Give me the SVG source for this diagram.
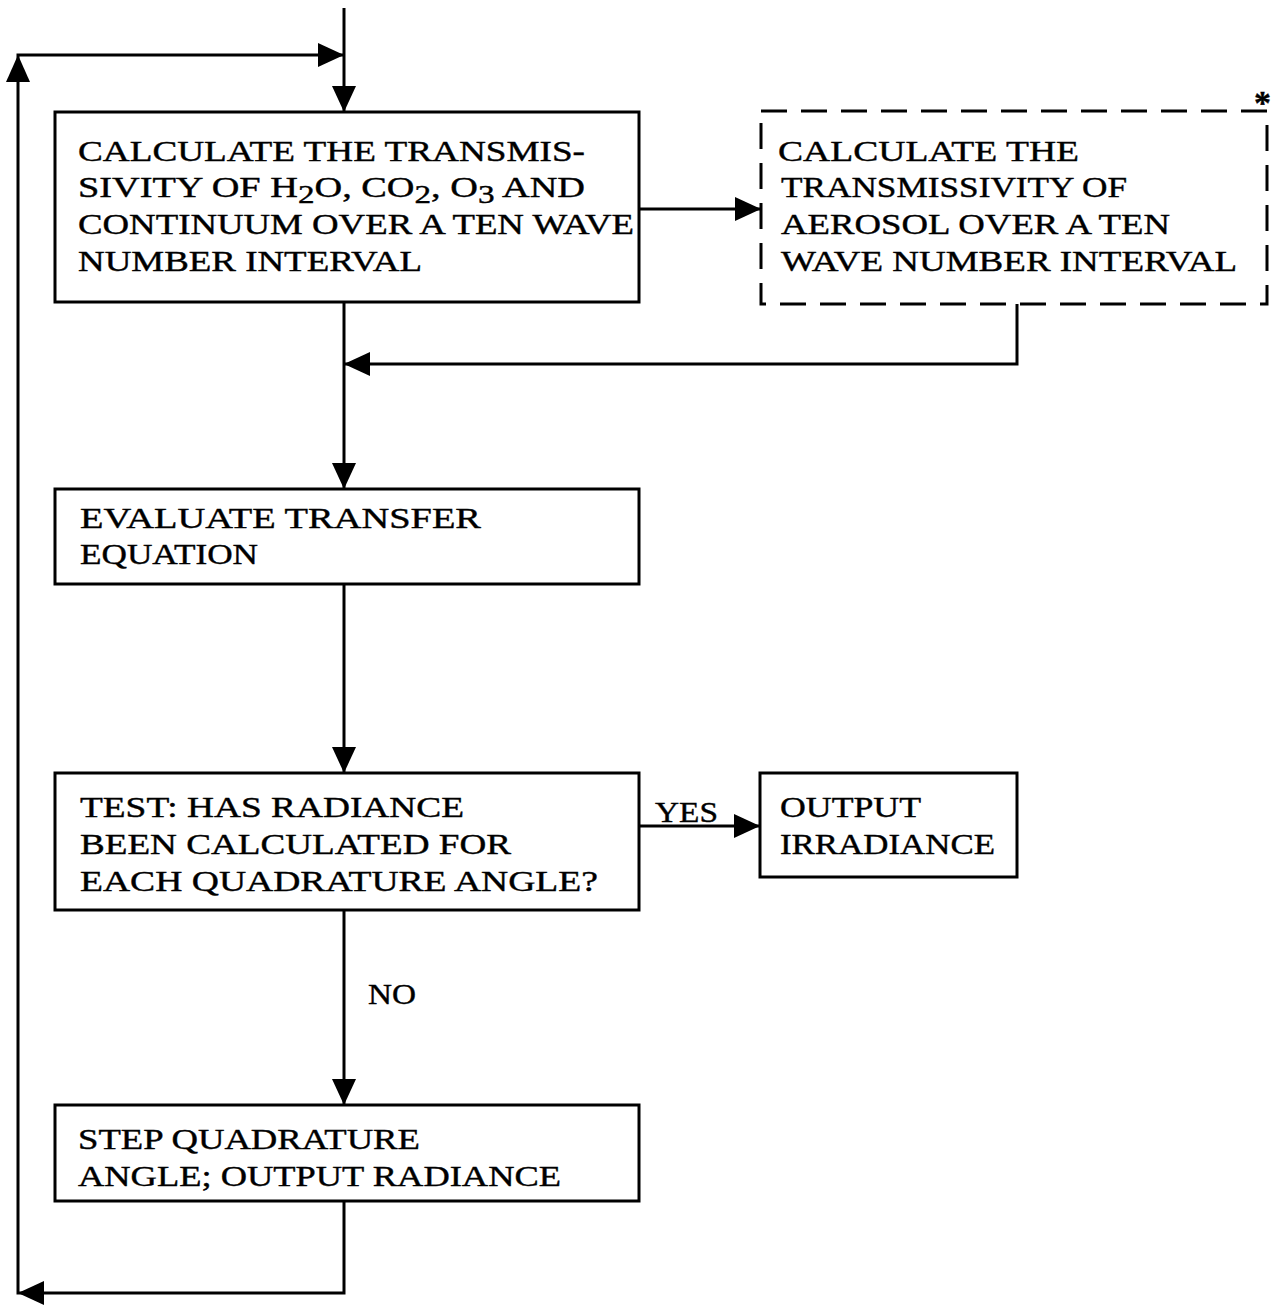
<svg xmlns="http://www.w3.org/2000/svg" width="1279" height="1308" viewBox="0 0 1279 1308">
<style>
.box{fill:#fff;stroke:#000;stroke-width:3}
.dash{fill:none;stroke:#000;stroke-width:3;stroke-dasharray:26 14}
.ln{fill:none;stroke:#000;stroke-width:3}
text{font-family:"Liberation Serif","DejaVu Serif",serif;font-size:30px;fill:#000;stroke:#000;stroke-width:0.4}
</style>
<defs>
<marker id="ah" viewBox="0 0 26 24" refX="26" refY="12" markerWidth="26" markerHeight="24" markerUnits="userSpaceOnUse" orient="auto">
<path d="M0,0 L26,12 L0,24 Z" fill="#000"/>
</marker>
</defs>
<g id="connectors">
<line class="ln" x1="344" y1="8" x2="344" y2="112" marker-end="url(#ah)"/>
<polyline class="ln" points="344,1201 344,1293 18,1293 18,55 344,55" marker-end="url(#ah)"/>
<path d="M18,1293 L44,1281 L44,1305 Z" fill="#000"/>
<path d="M18,55 L6,82 L30,82 Z" fill="#000"/>
<line class="ln" x1="639" y1="209" x2="761" y2="209" marker-end="url(#ah)"/>
<polyline class="ln" points="1017,304 1017,364 344,364"/>
<path d="M344,364 L370,352 L370,376 Z" fill="#000"/>
<line class="ln" x1="344" y1="302" x2="344" y2="489" marker-end="url(#ah)"/>
<line class="ln" x1="344" y1="584" x2="344" y2="773" marker-end="url(#ah)"/>
<line class="ln" x1="639" y1="826" x2="760" y2="826" marker-end="url(#ah)"/>
<line class="ln" x1="344" y1="910" x2="344" y2="1105" marker-end="url(#ah)"/>
<text x="655" y="822" textLength="63" lengthAdjust="spacingAndGlyphs">YES</text>
<text x="368" y="1004" textLength="48" lengthAdjust="spacingAndGlyphs">NO</text>
</g>
<g id="n1">
<rect class="box" x="55" y="112" width="584" height="190"/>
<text x="78" y="161" textLength="507" lengthAdjust="spacingAndGlyphs">CALCULATE THE TRANSMIS-</text>
<text x="78" y="197" textLength="507" lengthAdjust="spacingAndGlyphs">SIVITY OF H<tspan dy="6" font-size="26">2</tspan><tspan dy="-6">O, CO</tspan><tspan dy="6" font-size="26">2</tspan><tspan dy="-6">, O</tspan><tspan dy="6" font-size="26">3</tspan><tspan dy="-6"> AND</tspan></text>
<text x="78" y="234" textLength="556" lengthAdjust="spacingAndGlyphs">CONTINUUM OVER A TEN WAVE</text>
<text x="78" y="271" textLength="344" lengthAdjust="spacingAndGlyphs">NUMBER INTERVAL</text>
</g>
<g id="n2">
<rect class="dash" x="761" y="111" width="506" height="193"/>
<text x="778" y="161" textLength="301" lengthAdjust="spacingAndGlyphs">CALCULATE THE</text>
<text x="781" y="197" textLength="346" lengthAdjust="spacingAndGlyphs">TRANSMISSIVITY OF</text>
<text x="781" y="234" textLength="389" lengthAdjust="spacingAndGlyphs">AEROSOL OVER A TEN</text>
<text x="781" y="271" textLength="456" lengthAdjust="spacingAndGlyphs">WAVE NUMBER INTERVAL</text>
<text x="1254" y="114" style="font-size:34px;font-weight:bold">*</text>
</g>
<g id="n3">
<rect class="box" x="55" y="489" width="584" height="95"/>
<text x="80" y="528" textLength="401" lengthAdjust="spacingAndGlyphs">EVALUATE  TRANSFER</text>
<text x="80" y="564" textLength="178" lengthAdjust="spacingAndGlyphs">EQUATION</text>
</g>
<g id="n4">
<rect class="box" x="55" y="773" width="584" height="137"/>
<text x="80" y="817" textLength="384" lengthAdjust="spacingAndGlyphs">TEST:  HAS RADIANCE</text>
<text x="80" y="854" textLength="431" lengthAdjust="spacingAndGlyphs">BEEN CALCULATED FOR</text>
<text x="80" y="891" textLength="518" lengthAdjust="spacingAndGlyphs">EACH  QUADRATURE ANGLE?</text>
</g>
<g id="n5">
<rect class="box" x="760" y="773" width="257" height="104"/>
<text x="780" y="817" textLength="141" lengthAdjust="spacingAndGlyphs">OUTPUT</text>
<text x="780" y="854" textLength="215" lengthAdjust="spacingAndGlyphs">IRRADIANCE</text>
</g>
<g id="n6">
<rect class="box" x="55" y="1105" width="584" height="96"/>
<text x="78" y="1149" textLength="342" lengthAdjust="spacingAndGlyphs">STEP QUADRATURE</text>
<text x="78" y="1186" textLength="483" lengthAdjust="spacingAndGlyphs">ANGLE; OUTPUT RADIANCE</text>
</g>
</svg>
